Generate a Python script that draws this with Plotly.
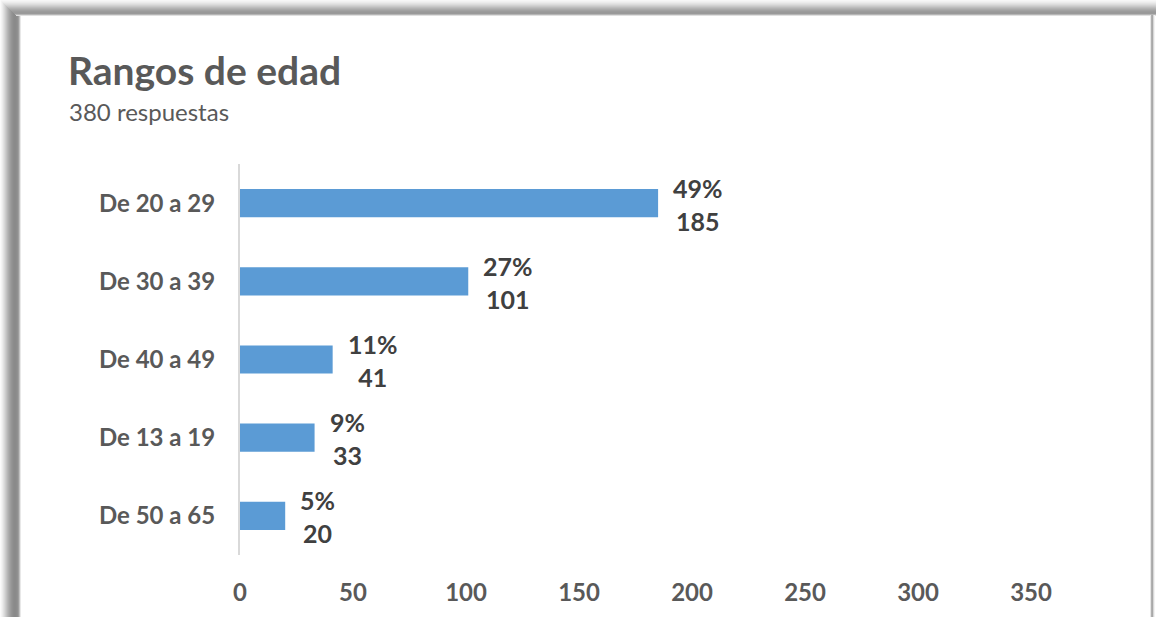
import plotly.graph_objects as go

# Age ranges, listed top to bottom
categories = ["De 20 a 29", "De 30 a 39", "De 40 a 49", "De 13 a 19", "De 50 a 65"]
counts = [185, 101, 41, 33, 20]
total_responses = 380
x_ticks = [0, 50, 100, 150, 200, 250, 300, 350]

percents = [round(c / total_responses * 100) for c in counts]

W, H = 1156, 617
ML, MR, MT, MB = 240, 125, 164, 62
PW, PH = W - ML - MR, H - MT - MB

FONT = "Lato"
BAR = "#5B9BD5"
LABEL = "#595959"
VALUE = "#404040"


def px(xp):
    return (xp - ML) / PW


def py(yp):
    return (H - MB - yp) / PH


fig = go.Figure(
    go.Bar(
        x=counts,
        y=categories,
        orientation="h",
        width=0.36,
        marker=dict(color=BAR, line=dict(width=0)),
        hoverinfo="skip",
    )
)

for cat, c, p in zip(categories, counts, percents):
    fig.add_annotation(
        x=c, y=cat, xref="x", yref="y",
        text=f"<b>{p}%<br>{c}</b>",
        showarrow=False, xanchor="left", yanchor="middle",
        align="center", xshift=13, yshift=-1,
        font=dict(family=FONT, size=25, color=VALUE),
    )

# Title block
fig.add_annotation(
    x=px(66), y=py(70), xref="paper", yref="paper",
    text="<b>Rangos de edad</b>", showarrow=False,
    xanchor="left", yanchor="middle",
    font=dict(family=FONT, size=39, color=LABEL),
)
fig.add_annotation(
    x=px(67), y=py(112), xref="paper", yref="paper",
    text=f"{total_responses} respuestas", showarrow=False,
    xanchor="left", yanchor="middle",
    font=dict(family=FONT, size=24, color=LABEL),
)

# Frame shading: top band, left band and right edge
shapes = []
top_greys = ["#f7f7f7", "#f2f2f2", "#ececec", "#e4e4e4", "#dcdcdc", "#d2d2d2",
             "#c8c8c8", "#bdbdbd", "#b3b3b3", "#aaaaaa", "#a2a2a2", "#9c9c9c",
             "#999999", "#9a9a9a", "#b5b5b5", "#e0e0e0"]
for i, g in enumerate(top_greys):
    shapes.append(dict(type="rect", xref="paper", yref="paper",
                       x0=px(min(i, 20)), x1=px(W), y0=py(i), y1=py(i + 1),
                       fillcolor=g, line=dict(width=0), layer="above"))
left_greys = ["#fbfbfb", "#f4f4f4", "#ececec", "#e2e2e2", "#d8d8d8", "#cdcdcd",
              "#c2c2c2", "#b7b7b7", "#adadad", "#a4a4a4", "#9c9c9c", "#959595",
              "#909090", "#8c8c8c", "#8a8a8a", "#8a8a8a", "#8c8c8c", "#909090",
              "#9e9e9e", "#c0c0c0", "#e8e8e8"]
for i, g in enumerate(left_greys):
    shapes.append(dict(type="rect", xref="paper", yref="paper",
                       x0=px(i), x1=px(i + 1), y0=py(H), y1=py(min(i, 16)),
                       fillcolor=g, line=dict(width=0), layer="above"))
right_greys = ["#e6e6e6", "#b0b0b0", "#a8a8a8", "#d8d8d8", "#f2f2f2"]
for i, g in enumerate(right_greys):
    shapes.append(dict(type="rect", xref="paper", yref="paper",
                       x0=px(1150 + i), x1=px(1151 + i), y0=py(H), y1=py(15),
                       fillcolor=g, line=dict(width=0), layer="above"))

fig.update_layout(
    width=W, height=H,
    margin=dict(l=ML, r=MR, t=MT, b=MB),
    paper_bgcolor="white", plot_bgcolor="white",
    showlegend=False,
    shapes=shapes,
    xaxis=dict(
        range=[0, 350], tickvals=x_ticks, ticktext=[str(t) for t in x_ticks],
        showgrid=False, zeroline=False, showline=False, ticks="",
        ticklabelstandoff=21,
        tickfont=dict(family=FONT, size=24, color=LABEL, weight="bold"),
        fixedrange=True,
    ),
    yaxis=dict(
        categoryorder="array", categoryarray=categories[::-1],
        range=[-0.5, 4.5],
        showgrid=False, zeroline=False, ticks="",
        showline=True, linecolor="#d9d9d9", linewidth=2,
        ticklabelstandoff=18,
        tickfont=dict(family=FONT, size=24, color=LABEL, weight="bold"),
        fixedrange=True,
    ),
)

fig.write_html("out.html", config={"displayModeBar": False})
